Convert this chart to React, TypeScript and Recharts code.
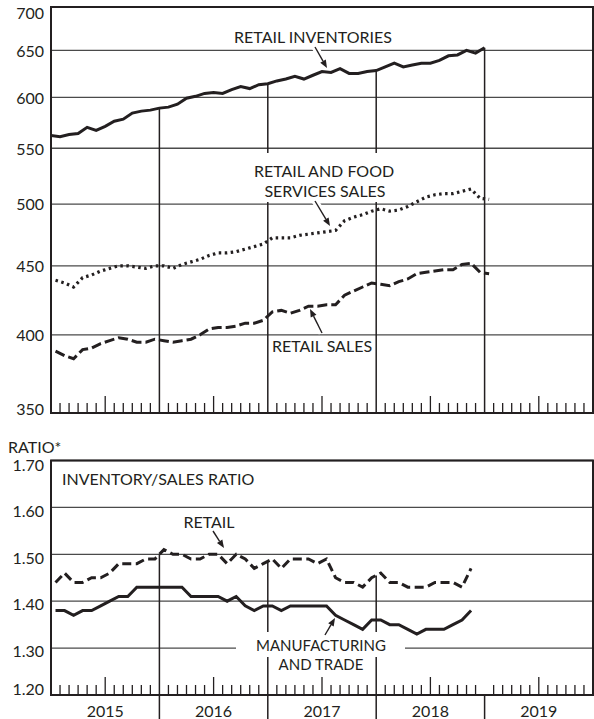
import React from "react";
import {
  LineChart,
  Line,
  XAxis,
  YAxis,
  CartesianGrid,
  ReferenceLine,
  ReferenceArea,
} from "recharts";

// month index 0 = Jan 2015. inventories sit on month starts, flows on month centers
const retailInventories = [
  562, 561, 563, 564, 570, 567, 571, 576, 578, 584, 586, 587, 589, 590, 593,
  599, 601, 604, 605, 604, 608, 611, 609, 613, 614, 617, 619, 622, 619, 623,
  627, 626, 630, 625, 625, 627, 628, 632, 636, 632, 634, 636, 636, 639, 644,
  645, 650, 647, 653,
];
const retailFoodSales = [
  439, 437, 434, 441, 443, 446, 448, 450, 450, 449, 448, 450, 450, 448, 451,
  453, 455, 458, 460, 460, 461, 463, 465, 467, 472, 472, 472, 474, 475, 476,
  477, 478, 486, 489, 491, 494, 496, 494, 495, 498, 502, 506, 508, 509, 509,
  511, 513, 505, 504,
];
const retailSales = [
  389, 386, 384, 390, 391, 394, 396, 398, 397, 395, 395, 397, 396, 395, 396,
  397, 400, 404, 405, 405, 406, 408, 408, 410, 416, 417, 415, 417, 420, 420,
  421, 421, 428, 431, 434, 437, 436, 435, 438, 440, 444, 445, 446, 447, 447,
  451, 452, 445, 444,
];
const retailRatio = [
  1.44, 1.46, 1.44, 1.44, 1.45, 1.45, 1.46, 1.48, 1.48, 1.48, 1.49, 1.49, 1.51,
  1.5, 1.5, 1.49, 1.49, 1.5, 1.5, 1.48, 1.5, 1.49, 1.47, 1.48, 1.49, 1.47, 1.49,
  1.49, 1.49, 1.48, 1.49, 1.45, 1.44, 1.44, 1.43, 1.45, 1.46, 1.44, 1.44, 1.43,
  1.43, 1.43, 1.44, 1.44, 1.44, 1.43, 1.47,
];
const mfgTradeRatio = [
  1.38, 1.38, 1.37, 1.38, 1.38, 1.39, 1.4, 1.41, 1.41, 1.43, 1.43, 1.43, 1.43,
  1.43, 1.43, 1.41, 1.41, 1.41, 1.41, 1.4, 1.41, 1.39, 1.38, 1.39, 1.39, 1.38,
  1.39, 1.39, 1.39, 1.39, 1.39, 1.37, 1.36, 1.35, 1.34, 1.36, 1.36, 1.35, 1.35,
  1.34, 1.33, 1.34, 1.34, 1.34, 1.35, 1.36, 1.38,
];

const levelTicks = [350, 400, 450, 500, 550, 600, 650, 700];
const ratioTicks = [1.2, 1.3, 1.4, 1.5, 1.6, 1.7];
const years = ["2015", "2016", "2017", "2018", "2019"];
const yearBreaks = [12, 24, 36, 48];
const monthTicks = Array.from({ length: 61 }, (_, i) => i);

const invData = retailInventories.map((v, i) => ({ m: i, v }));
const rfsData = retailFoodSales.map((v, i) => ({ m: i + 0.5, v }));
const rsData = retailSales.map((v, i) => ({ m: i + 0.5, v }));
const rrData = retailRatio.map((v, i) => ({ m: i + 0.5, v }));
const mtData = mfgTradeRatio.map((v, i) => ({ m: i + 0.5, v }));

const INK = "#231f20";
const GRID = "#4a4a4a";
const FONT = "Lato, 'Open Sans', sans-serif";
const FS = 16;

const txt = { fontFamily: FONT, fontSize: FS, fill: INK } as const;

function MonthTick(props: any) {
  const { x, y, payload, tall, showYears } = props;
  const m = payload.value;
  if (m === 0 || m === 60) return <g />;
  if (m % 12 === 0) {
    return showYears ? (
      <line x1={x} x2={x} y1={y} y2={y + 24} stroke={INK} strokeWidth={1.5} />
    ) : (
      <g />
    );
  }
  const mid = m % 12 === 6;
  return (
    <g>
      <line
        x1={x}
        x2={x}
        y1={y}
        y2={y - (mid ? tall : 10)}
        stroke={INK}
        strokeWidth={1.3}
      />
      {showYears && mid && (
        <text x={x} y={y + 22} textAnchor="middle" {...txt}>
          {years[(m - 6) / 12]}
        </text>
      )}
    </g>
  );
}

function LevelTick(props: any) {
  const { x, y, payload } = props;
  const v = payload.value;
  const shift = v === 700 ? 6 : v === 350 ? -3.5 : 0.5;
  return (
    <text x={x - 7} y={y + shift} dy="0.36em" textAnchor="end" {...txt}>
      {v}
    </text>
  );
}

function RatioTick(props: any) {
  const { x, y, payload } = props;
  const v = payload.value;
  const shift = v === 1.7 ? 4.5 : v === 1.2 ? -6 : 3.5;
  return (
    <text x={x - 7} y={y + shift} dy="0.36em" textAnchor="end" {...txt}>
      {v.toFixed(2)}
    </text>
  );
}

function Arrow({ x1, y1, x2, y2 }: { x1: number; y1: number; x2: number; y2: number }) {
  const a = Math.atan2(y2 - y1, x2 - x1);
  const L = 8;
  const W = 3.2;
  const bx = x2 - L * Math.cos(a);
  const by = y2 - L * Math.sin(a);
  const pts = `${x2},${y2} ${bx - W * Math.sin(a)},${by + W * Math.cos(a)} ${
    bx + W * Math.sin(a)
  },${by - W * Math.cos(a)}`;
  const mx = x1 + (x2 - x1) * 0.55;
  const my = y1 + (y2 - y1) * 0.55;
  return (
    <g>
      <line x1={x1} y1={y1} x2={mx} y2={my} stroke="#fff" strokeWidth={7} />
      <line x1={x1} y1={y1} x2={bx} y2={by} stroke={INK} strokeWidth={1.4} />
      <polygon points={pts} fill={INK} />
    </g>
  );
}

export default function App() {
  return (
    <div
      style={{
        position: "absolute",
        left: 0,
        top: 0,
        width: 594,
        height: 719,
        background: "#fff",
      }}
    >
      <div style={{ position: "absolute", left: 0, top: 0 }}>
        <LineChart
          width={594}
          height={425}
          margin={{ top: 7, right: 1, bottom: 0, left: 0 }}
        >
          <CartesianGrid vertical={false} stroke={GRID} strokeWidth={1.3} />
          <XAxis
            type="number"
            dataKey="m"
            domain={[0, 60]}
            ticks={monthTicks}
            interval={0}
            height={12}
            tickSize={0}
            tickMargin={0}
            axisLine={false}
            tickLine={false}
            allowDataOverflow
            tick={(p: any) => <MonthTick {...p} tall={17} showYears={false} />}
          />
          <YAxis
            scale="log"
            domain={[350, 700]}
            ticks={levelTicks}
            width={51}
            interval={0}
            axisLine={false}
            tickLine={false}
            tickSize={0}
            tickMargin={0}
            allowDataOverflow
            tick={LevelTick}
          />
          <ReferenceArea
            x1={0}
            x2={60}
            y1={350}
            y2={700}
            fill="none"
            stroke={INK}
            strokeWidth={2}
            fillOpacity={0}
          />
          {yearBreaks.map((m) => (
            <ReferenceLine
              key={m}
              segment={[
                { x: m, y: retailInventories[m] },
                { x: m, y: 350 },
              ]}
              stroke={INK}
              strokeWidth={1.5}
            />
          ))}
          <Line
            data={invData}
            dataKey="v"
            type="linear"
            dot={false}
            stroke={INK}
            strokeWidth={3}
            isAnimationActive={false}
          />
          <Line
            data={rfsData}
            dataKey="v"
            type="linear"
            dot={false}
            stroke={INK}
            strokeWidth={3.2}
            strokeDasharray="2.5 3.5"
            isAnimationActive={false}
          />
          <Line
            data={rsData}
            dataKey="v"
            type="linear"
            dot={false}
            stroke={INK}
            strokeWidth={3}
            strokeDasharray="10 4"
            isAnimationActive={false}
          />
        </LineChart>
      </div>

      <div style={{ position: "absolute", left: 0, top: 430 }}>
        <LineChart
          width={594}
          height={289}
          margin={{ top: 30.5, right: 1, bottom: 0, left: 0 }}
        >
          <CartesianGrid vertical={false} stroke={GRID} strokeWidth={1.3} />
          <XAxis
            type="number"
            dataKey="m"
            domain={[0, 60]}
            ticks={monthTicks}
            interval={0}
            height={24}
            tickSize={0}
            tickMargin={0}
            axisLine={false}
            tickLine={false}
            allowDataOverflow
            tick={(p: any) => <MonthTick {...p} tall={18} showYears />}
          />
          <YAxis
            domain={[1.2, 1.7]}
            ticks={ratioTicks}
            width={51}
            interval={0}
            axisLine={false}
            tickLine={false}
            tickSize={0}
            tickMargin={0}
            allowDataOverflow
            tick={RatioTick}
          />
          <ReferenceArea
            x1={0}
            x2={60}
            y1={1.2}
            y2={1.7}
            fill="none"
            stroke={INK}
            strokeWidth={2}
            fillOpacity={0}
          />
          {yearBreaks.slice(0, 3).map((m) => (
            <ReferenceLine
              key={m}
              segment={[
                { x: m, y: (retailRatio[m - 1] + retailRatio[m]) / 2 },
                { x: m, y: 1.2 },
              ]}
              stroke={INK}
              strokeWidth={1.5}
            />
          ))}
          <Line
            data={rrData}
            dataKey="v"
            type="linear"
            dot={false}
            stroke={INK}
            strokeWidth={3}
            strokeDasharray="9 4.5"
            isAnimationActive={false}
          />
          <Line
            data={mtData}
            dataKey="v"
            type="linear"
            dot={false}
            stroke={INK}
            strokeWidth={3}
            isAnimationActive={false}
          />
        </LineChart>
      </div>

      <svg
        width={594}
        height={719}
        style={{ position: "absolute", left: 0, top: 0, pointerEvents: "none" }}
      >
        <rect x={247} y={153} width={154} height={49} fill="#fff" />
        <rect x={236} y={632} width={169} height={25} fill="#fff" />
        <rect x={271} y={655} width={102} height={16} fill="#fff" />

        <text x={313} y={43} textAnchor="middle" {...txt}>
          RETAIL INVENTORIES
        </text>
        <text textAnchor="middle" {...txt}>
          <tspan x={324} y={176.5}>
            RETAIL AND FOOD
          </tspan>
          <tspan x={325} y={196.5}>
            SERVICES SALES
          </tspan>
        </text>
        <text x={322} y={352} textAnchor="middle" {...txt}>
          RETAIL SALES
        </text>
        <text x={8} y={453} {...txt}>
          RATIO*
        </text>
        <text x={62} y={485} {...txt}>
          INVENTORY/SALES RATIO
        </text>
        <text x={209} y={528} textAnchor="middle" {...txt}>
          RETAIL
        </text>
        <text x={321} y={651} textAnchor="middle" {...txt} fontSize={15}>
          MANUFACTURING
        </text>
        <text x={321} y={669.5} textAnchor="middle" {...txt} fontSize={15}>
          AND TRADE
        </text>

        <Arrow x1={315} y1={47} x2={327} y2={68} />
        <Arrow x1={315} y1={201} x2={330} y2={226} />
        <Arrow x1={322} y1={333} x2={310} y2={309} />
        <Arrow x1={213} y1={531} x2={224} y2={548} />
        <Arrow x1={325} y1={635} x2={335} y2={618} />
      </svg>
    </div>
  );
}
